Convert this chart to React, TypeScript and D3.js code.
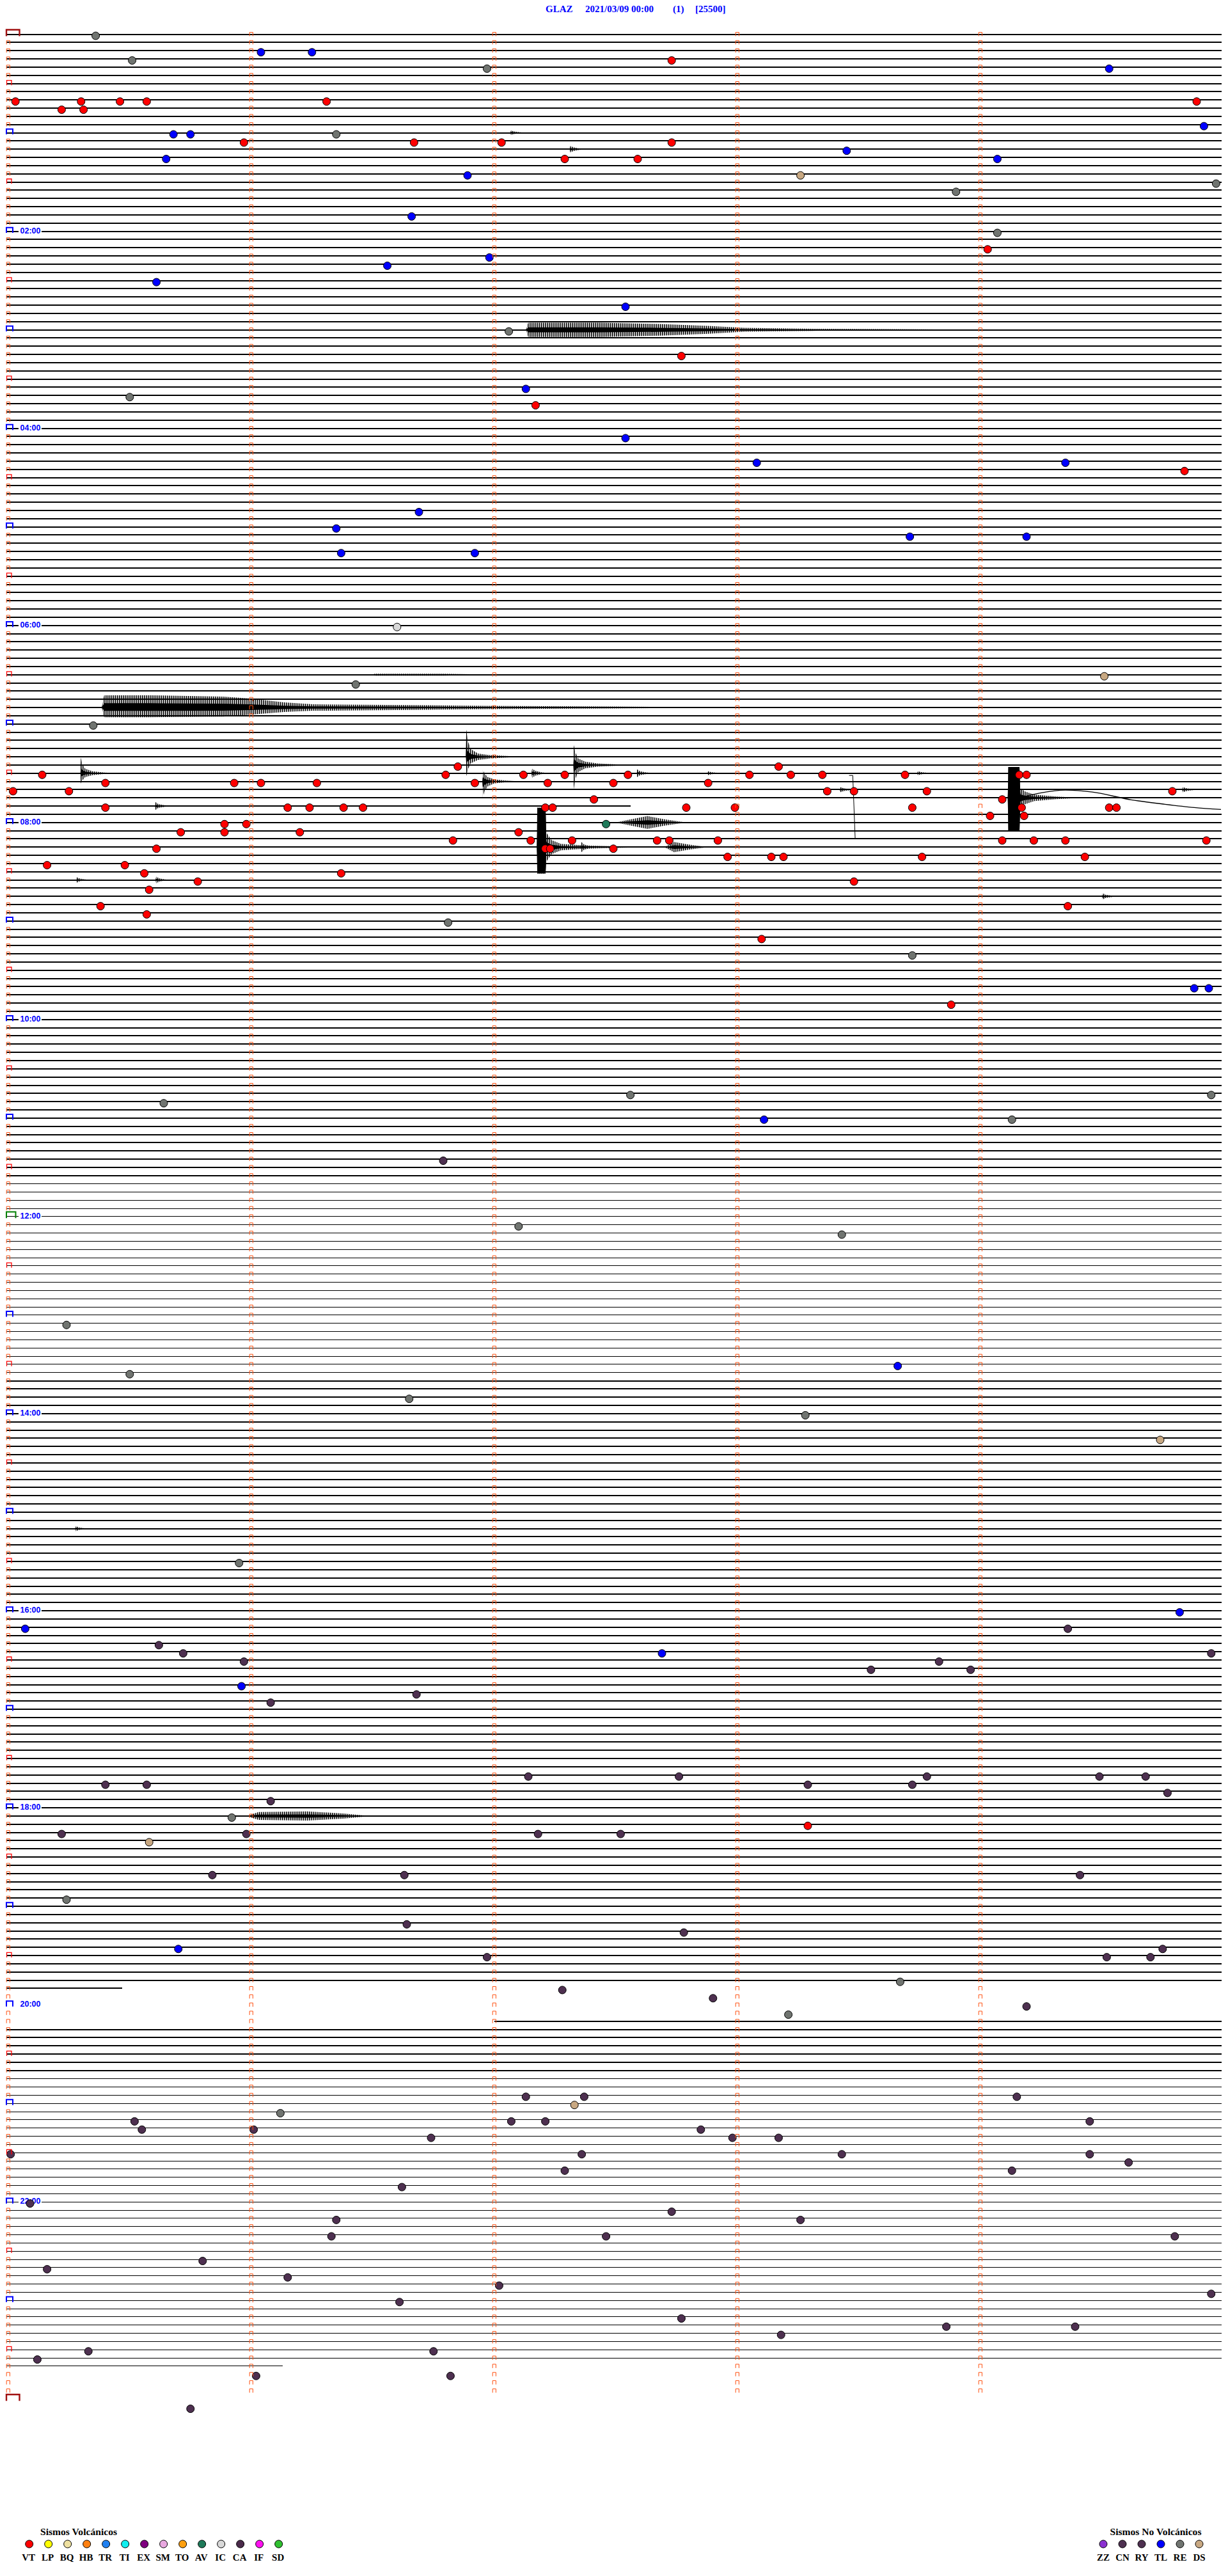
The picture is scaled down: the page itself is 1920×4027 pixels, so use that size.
import React from "react";
import * as d3 from "d3";

// ---------- header ----------
const STATION = "GLAZ";
const START_LABEL = "2021/03/09 00:00";
const CHANNEL = "(1)";
const SCALE_COUNTS = 25500;

// ---------- helicorder layout data ----------
const MIN_PER_ROW = 5;
const ROWS = 288;
const DATA_END = 1421.13; // minutes after 00:00
const CLIP_COUNTS = 80000; // digitizer saturation level
const GAPS: [number, number][] = [
  [472.56, 475.0],
  [1190.47, 1212.0],
];
// background noise level (counts) by time span [start, end, counts]
const NOISE: [number, number, number][] = [
  [0, 540, 2000],
  [540, 700, 1500],
  [700, 820, 1000],
  [820, 900, 1500],
  [900, 1245, 2200],
  [1245, 1440, 1000],
];
const HOUR_LABELS = ["02:00", "04:00", "06:00", "08:00", "10:00", "12:00", "14:00", "16:00", "18:00", "20:00", "22:00"];

// ---------- legend ----------
const VOLC_CODES = ["VT", "LP", "BQ", "HB", "TR", "TI", "EX", "SM", "TO", "AV", "IC", "CA", "IF", "SD"];
const VOLC_COLORS = ["#ff0000", "#ffff00", "#eee0a0", "#ff8010", "#2080f0", "#10f0f0", "#800080", "#e8a8e0", "#ffa010", "#1f7a5a", "#d8d8d8", "#4a2a4a", "#ff10f0", "#30c030"];
const NONVOLC_CODES = ["ZZ", "CN", "RY", "TL", "RE", "DS"];
const NONVOLC_COLORS = ["#8a30d0", "#4e3050", "#4e3050", "#0000ff", "#707470", "#c8a882"];

// ---------- detections (minutes after 00:00) ----------
const DET_VT = [
  17.73, 40.03, 40.3, 40.46, 40.57, 41.31, 44.89, 45.22, 45.31, 65.97, 66.67, 67.03, 67.73, 77.29, 77.59, 134.03, 197.77, 227.17, 269.84,
  446.85, 448.17, 450.14, 451.8, 452.12, 452.29, 452.55, 453.05, 453.22, 453.35, 453.69, 454.16, 454.19, 455.4, 455.93, 456.04, 456.27,
  456.92, 457.22, 457.49, 457.88, 460.02, 460.25, 463.37, 463.48, 463.78, 464.79, 467.41, 469.09, 470.4, 471.15, 471.24, 471.38, 471.46,
  472.21, 472.24, 472.79, 472.99, 473.72, 474.17, 474.53, 474.56, 479.04, 479.18, 480.89, 480.98, 485.71, 485.89, 486.2, 487.1, 491.83,
  492.15, 492.32, 492.67, 492.72, 492.92, 494.09, 494.22, 494.35, 494.93, 495.61, 497.21, 497.23, 497.49, 502.96, 503.14, 503.19, 503.76,
  504.43, 505.16, 505.48, 510.56, 511.37, 515.78, 518.48, 520.58, 530.38, 534.36, 535.57, 553.1, 593.88, 1093.29,
];
const DET_TL = [
  11.04, 11.25, 24.53, 59.92, 60.68, 60.75, 73.45, 75.65, 79.07, 86.89, 111.66, 136.98, 141.56, 150.61, 167.54, 217.13, 247.54, 263.08,
  264.35, 291.69, 301.35, 308.71, 309.19, 316.37, 316.92, 584.88, 584.94, 663.11, 813.66, 964.82, 970.07, 987.69, 1005.96, 1165.7,
];
const DET_RE = [
  0.36, 15.51, 21.97, 61.35, 94.97, 98.9, 124.07, 182.06, 220.5, 396.43, 420.35, 541.81, 563.72, 647.56, 649.95, 650.64, 664.13, 727.1,
  733.43, 785.24, 815.5, 831.65, 843.28, 930.95, 1085.92, 1135.24, 1188.67, 1208.21, 1266.12,
];
const DET_DS = [88.26, 394.51, 859.74, 1100.58, 1262.33];
const DET_IC = [361.6];
const DET_AV = [482.46];
const DET_CN = [
  686.79, 974.36, 980.62, 985.72, 989.95, 990.97, 993.83, 998.55, 998.96, 1011.68, 1016.08, 1062.14, 1062.76, 1063.78, 1064.49, 1064.68,
  1065.4, 1065.57, 1068.29, 1068.72, 1074.77, 1076.08, 1095.22, 1095.98, 1097.18, 1097.52, 1120.84, 1121.63, 1124.41, 1151.64, 1157.78,
  1169.75, 1171.97, 1174.52, 1174.7, 1192.28, 1197.9, 1204.19, 1257.13, 1257.37, 1259.15, 1270.52, 1272.07, 1272.21, 1274.45, 1275.55,
  1276.01, 1277.85, 1281.74, 1282.98, 1283.17, 1290.01, 1292.36, 1293.43, 1294.45, 1299.61, 1302.29, 1304.13, 1311.62, 1320.09, 1327.73,
  1331.35, 1333.26, 1341.33, 1342.46, 1344.8, 1355.8, 1360.16, 1366.15, 1372.02, 1379.95, 1381.61, 1392.77, 1398.86, 1399.39, 1403.18,
  1410.33, 1411.75, 1415.12, 1426.02, 1426.82, 1445.75,
];

// ---------- waveform envelopes: onset minute, [minutes after onset, up counts, down counts] ----------
type Env = { t: number; pts: [number, number, number][] };
const WAVEFORMS: Env[] = [
  { t: 62.066, pts: [[0, 0, 0], [0.003, 7000, 7000], [0.015, 4000, 4000], [0.04, 1500, 1500], [0.06, 0, 0]] },
  { t: 72.31, pts: [[0, 0, 0], [0.003, 10000, 10000], [0.015, 6000, 6000], [0.04, 2000, 2000], [0.08, 0, 0]] },
  { t: 182.13, pts: [[0, 0, 0], [0.01, 22000, 22000], [0.3, 22000, 22000], [0.55, 18000, 18000], [0.75, 12000, 12000], [0.9, 6000, 6000], [1.2, 3000, 3000], [1.6, 1500, 1500], [1.9, 0, 0]] },
  { t: 391.49, pts: [[0, 0, 0], [0.02, 3000, 3000], [0.3, 3000, 3000], [0.5, 0, 0]] },
  { t: 410.385, pts: [[0, 0, 0], [0.01, 38000, 30000], [0.2, 38000, 30000], [0.5, 34000, 28000], [0.61, 28000, 22000], [0.75, 16000, 14000], [0.87, 10000, 10000], [1.35, 7000, 7000], [1.6, 5000, 5000], [2.1, 3000, 3000], [2.6, 0, 0]] },
  { t: 441.883, pts: [[0, 0, 0], [0.002, 84000, 60000], [0.008, 50000, 40000], [0.02, 24000, 20000], [0.05, 10000, 10000], [0.1, 5000, 5000], [0.18, 2000, 2000], [0.25, 0, 0]] },
  { t: 447.325, pts: [[0, 0, 0], [0.002, 62000, 74000], [0.008, 40000, 44000], [0.02, 20000, 22000], [0.05, 10000, 10000], [0.1, 5000, 5000], [0.18, 2000, 2000], [0.25, 0, 0]] },
  { t: 450.297, pts: [[0, 0, 0], [0.002, 48000, 32000], [0.008, 28000, 22000], [0.02, 14000, 12000], [0.05, 6000, 6000], [0.1, 2000, 2000], [0.15, 0, 0]] },
  { t: 452.153, pts: [[0, 0, 0], [0.003, 14000, 14000], [0.015, 8000, 8000], [0.04, 3000, 3000], [0.07, 0, 0]] },
  { t: 452.585, pts: [[0, 0, 0], [0.003, 12000, 12000], [0.015, 6000, 6000], [0.04, 2500, 2500], [0.07, 0, 0]] },
  { t: 452.875, pts: [[0, 0, 0], [0.003, 6000, 6000], [0.02, 3000, 3000], [0.06, 0, 0]] },
  { t: 453.74, pts: [[0, 0, 0], [0.003, 6000, 6000], [0.02, 3000, 3000], [0.06, 0, 0]] },
  { t: 456.951, pts: [[0, 0, 0], [0.002, 36000, 50000], [0.008, 26000, 32000], [0.02, 14000, 16000], [0.05, 6000, 6000], [0.1, 2500, 2500], [0.15, 0, 0]] },
  { t: 463.42, pts: [[0, 0, 0], [0.003, 8000, 8000], [0.02, 4000, 4000], [0.06, 0, 0]] },
  { t: 464.83, pts: [[0, 0, 0], [0.003, 8000, 8000], [0.02, 4000, 4000], [0.06, 0, 0]] },
  { t: 469.113, pts: [[0, 0, 0], [0.002, 96000, 104000], [0.048, 96000, 104000], [0.052, 30000, 30000], [0.07, 20000, 20000], [0.11, 10000, 10000], [0.2, 4000, 4000], [0.3, 0, 0]] },
  { t: 470.603, pts: [[0, 0, 0], [0.003, 12000, 12000], [0.015, 6000, 6000], [0.04, 2500, 2500], [0.07, 0, 0]] },
  { t: 482.5, pts: [[0, 0, 0], [0.05, 8000, 8000], [0.13, 20000, 20000], [0.2, 10000, 10000], [0.29, 0, 0]] },
  { t: 497.175, pts: [[0, 0, 0], [0.002, 122000, 82000], [0.036, 122000, 82000], [0.04, 44000, 44000], [0.06, 22000, 22000], [0.1, 10000, 10000], [0.2, 5000, 5000], [0.35, 2000, 2000], [0.45, 0, 0]] },
  { t: 497.355, pts: [[0, 0, 0], [0.003, 16000, 16000], [0.015, 8000, 8000], [0.04, 3000, 3000], [0.08, 0, 0]] },
  { t: 497.7, pts: [[0, 0, 0], [0.04, 16000, 16000], [0.1, 8000, 8000], [0.18, 0, 0]] },
  { t: 515.28, pts: [[0, 0, 0], [0.003, 8000, 8000], [0.015, 4000, 4000], [0.05, 0, 0]] },
  { t: 515.606, pts: [[0, 0, 0], [0.003, 10000, 10000], [0.015, 5000, 5000], [0.05, 0, 0]] },
  { t: 529.5, pts: [[0, 0, 0], [0.003, 10000, 10000], [0.015, 5000, 5000], [0.06, 0, 0]] },
  { t: 910.275, pts: [[0, 0, 0], [0.003, 8000, 8000], [0.015, 4000, 4000], [0.05, 0, 0]] },
  { t: 1085.98, pts: [[0, 0, 0], [0.05, 12000, 12000], [0.25, 14000, 14000], [0.4, 8000, 8000], [0.51, 0, 0]] },
];
// long-period swing after the 07:45 event: onset, [minutes after onset, counts]
const DRIFT_T = 469.16;
const DRIFT: [number, number][] = [[0, 0], [0.08, -14000], [0.19, -24000], [0.3, -18000], [0.46, 6000], [0.6, 20000], [0.72, 30000], [0.83, 36000]];
// glitch pulses: onset, width (min), counts
const SPIKES: [number, number, number][] = [[493.46, 0.025, -197000]];

export default function App() {
  const rowH = 12.836;
  const x = d3.scaleLinear().domain([0, MIN_PER_ROW]).range([12.8, 1912.8]);
  const y = d3.scaleLinear().domain([0, ROWS]).range([53.5, 53.5 + ROWS * rowH]);
  const amp = d3.scaleLinear().domain([0, SCALE_COUNTS]).range([0, rowH]);
  const xs = (m: number) => (m <= 0.0001 ? 10 : m >= MIN_PER_ROW - 0.0001 ? 1910 : x(m));

  // data intervals
  const intervals: [number, number][] = [];
  let cur = 0;
  [...GAPS].sort((a, b) => a[0] - b[0]).forEach(([a, b]) => {
    if (a > cur) intervals.push([cur, a]);
    cur = Math.max(cur, b);
  });
  if (cur < DATA_END) intervals.push([cur, DATA_END]);

  const traceRects: { x0: number; x1: number; y: number; h: number }[] = [];
  NOISE.forEach(([a, b, lvl]) => {
    intervals.forEach(([c, d]) => {
      const s = Math.max(a, c), e = Math.min(b, d);
      if (e <= s) return;
      for (let r = Math.floor(s / MIN_PER_ROW); r * MIN_PER_ROW < e; r++) {
        const t0 = r * MIN_PER_ROW;
        const ss = Math.max(s, t0), ee = Math.min(e, t0 + MIN_PER_ROW);
        if (ee <= ss) continue;
        const h = Math.max(1, Math.round(2 * amp(lvl)));
        traceRects.push({ x0: xs(ss - t0), x1: xs(ee - t0), y: Math.round(y(r) - h / 2), h });
      }
    });
  });

  const area = d3
    .area<[number, number, number]>()
    .x((p) => p[0])
    .y0((p) => p[2])
    .y1((p) => p[1]);
  const waveShapes = WAVEFORMS.map((w) => {
    const r = Math.floor(w.t / MIN_PER_ROW);
    const m0 = w.t - r * MIN_PER_ROW;
    const base = y(r);
    const pts = w.pts.map((p) => [x(m0 + p[0]), base - amp(p[1]), base + amp(p[2])] as [number, number, number]);
    const clipped = w.pts.map(
      (p) => [x(m0 + p[0]), base - (p[1] >= CLIP_COUNTS ? amp(p[1]) : 0), base + (p[2] >= CLIP_COUNTS ? amp(p[2]) : 0)] as [number, number, number]
    );
    const core = w.pts.map((p) => [x(m0 + p[0]), base - amp(p[1]) * 0.35, base + amp(p[2]) * 0.35] as [number, number, number]);
    return { full: area(pts) || "", solid: area(clipped) || "", core: area(core) || "" };
  });

  const driftRow = Math.floor(DRIFT_T / MIN_PER_ROW);
  const driftM = DRIFT_T - driftRow * MIN_PER_ROW;
  const driftPath =
    d3
      .line<[number, number]>()
      .x((p) => x(driftM + p[0]))
      .y((p) => y(driftRow) + amp(p[1]))
      .curve(d3.curveMonotoneX)(DRIFT) || "";

  const spikePaths = SPIKES.map(([t, w, c]) => {
    const r = Math.floor(t / MIN_PER_ROW);
    const m = t - r * MIN_PER_ROW;
    const b = y(r);
    return `M${x(m)},${b + amp(c)}H${x(m + w * 0.6)}L${x(m + w)},${b}`;
  });

  const colorOf: Record<string, string> = {};
  VOLC_CODES.forEach((c, i) => (colorOf[c] = VOLC_COLORS[i]));
  NONVOLC_CODES.forEach((c, i) => (colorOf[c] = NONVOLC_COLORS[i]));
  const detections: [string, number[]][] = [
    ["RE", DET_RE],
    ["TL", DET_TL],
    ["DS", DET_DS],
    ["IC", DET_IC],
    ["CN", DET_CN],
    ["VT", DET_VT],
    ["AV", DET_AV],
  ];

  // markers
  const markers: React.ReactNode[] = [];
  for (let r = 0; r <= ROWS; r++) {
    const yy = y(r);
    for (let k = 0; k < MIN_PER_ROW; k++) {
      const xx = x(k);
      if (k === 0 && (r === 0 || r === ROWS)) {
        markers.push(<path key={`m${r}-${k}`} d={`M10,${yy + 3}V${yy - 7}H30.5V${yy + 3}`} fill="none" stroke="#a01010" strokeWidth={2.4} />);
      } else if (k === 0 && r === ROWS / 2) {
        markers.push(<path key={`m${r}-${k}`} d={`M10,${yy + 2.4}V${yy - 7.4}H24.5V${yy + 2.4}`} fill="none" stroke="#008000" strokeWidth={2} />);
      } else if (k === 0 && r % 12 === 0) {
        markers.push(<path key={`m${r}-${k}`} d={`M10,${yy + 2.5}V${yy - 5.8}H20V${yy + 2.5}`} fill="none" stroke="#0000ff" strokeWidth={2} />);
      } else if (k === 0 && r % 12 === 6) {
        markers.push(<path key={`m${r}-${k}`} d={`M10.5,${yy + 2.8}V${yy - 4.8}H18V${yy + 2.8}`} fill="none" stroke="#ff0000" strokeWidth={1.3} />);
      } else if (r < ROWS) {
        markers.push(<path key={`m${r}-${k}`} d={`M${xx - 2.6},${yy + 3}V${yy - 3}H${xx + 2.6}V${yy + 3}`} fill="none" stroke="#ff5010" strokeWidth={1} />);
      }
    }
  }

  const volcX = (i: number) => 45.7 + 30 * i;
  const nonX = (i: number) => 1725 + 30 * i;
  const serif = "'Liberation Serif', 'Times New Roman', serif";

  return (
    <svg width={1920} height={4027} viewBox="0 0 1920 4027" style={{ position: "absolute", left: 0, top: 0, background: "#fff" }}>
      <defs>
        <pattern id="osc" width={3} height={6} patternUnits="userSpaceOnUse">
          <rect x={0} y={0} width={1.6} height={6} fill="#000" />
        </pattern>
      </defs>
      <rect width={1920} height={4027} fill="#fff" />
      <g fontFamily={serif} fontWeight="bold" fontSize={15} fill="#0000ff">
        <text x={853} y={18.5}>{STATION}</text>
        <text x={915} y={18.5}>{START_LABEL}</text>
        <text x={1052} y={18.5}>{CHANNEL}</text>
        <text x={1087} y={18.5}>[{SCALE_COUNTS}]</text>
      </g>
      <g fill="#000" shapeRendering="crispEdges">
        {traceRects.map((t, i) => (
          <rect key={i} x={t.x0} y={t.y} width={Math.max(0, t.x1 - t.x0)} height={t.h} />
        ))}
      </g>
      <g>
        {waveShapes.map((w, i) => (
          <g key={i}>
            <path d={w.full} fill="url(#osc)" />
            <path d={w.core} fill="#000" />
            <path d={w.solid} fill="#000" />
          </g>
        ))}
      </g>
      <path d={driftPath} fill="none" stroke="#000" strokeWidth={1.3} />
      {spikePaths.map((d, i) => (
        <path key={i} d={d} fill="none" stroke="#000" strokeWidth={1} />
      ))}
      <g>
        {HOUR_LABELS.map((lab) => {
          const r = (parseInt(lab.slice(0, 2), 10) * 60) / MIN_PER_ROW;
          const yy = y(r);
          return (
            <g key={lab}>
              <rect x={29} y={yy - 8} width={36} height={11} fill="#fff" />
              <text x={31.5} y={yy + 3} fontFamily="'Liberation Sans', Arial, sans-serif" fontWeight="bold" fontSize={12.5} fill="#0000ff">
                {lab}
              </text>
            </g>
          );
        })}
      </g>
      <g stroke="#000" strokeWidth={1}>
        {detections.map(([code, arr]) =>
          arr.map((t, i) => {
            const r = Math.floor(t / MIN_PER_ROW);
            const m = t - r * MIN_PER_ROW;
            return <circle key={`${code}${i}`} cx={x(m)} cy={y(r) + 2.5} r={6} fill={colorOf[code]} />;
          })
        )}
      </g>
      <g>{markers}</g>
      <g fontFamily={serif} fontWeight="bold" fill="#000">
        <text x={63} y={3963} fontSize={15.6}>Sismos Volcánicos</text>
        {VOLC_CODES.map((c, i) => (
          <g key={c}>
            <circle cx={volcX(i)} cy={3977} r={6} fill={VOLC_COLORS[i]} stroke="#000" strokeWidth={1} />
            <text x={volcX(i) - 1} y={4003} fontSize={15} textAnchor="middle">{c}</text>
          </g>
        ))}
        <text x={1807} y={3963} fontSize={15.6} textAnchor="middle">Sismos No Volcánicos</text>
        {NONVOLC_CODES.map((c, i) => (
          <g key={c}>
            <circle cx={nonX(i)} cy={3977} r={6} fill={NONVOLC_COLORS[i]} stroke="#000" strokeWidth={1} />
            <text x={nonX(i)} y={4003} fontSize={15} textAnchor="middle">{c}</text>
          </g>
        ))}
      </g>
    </svg>
  );
}
